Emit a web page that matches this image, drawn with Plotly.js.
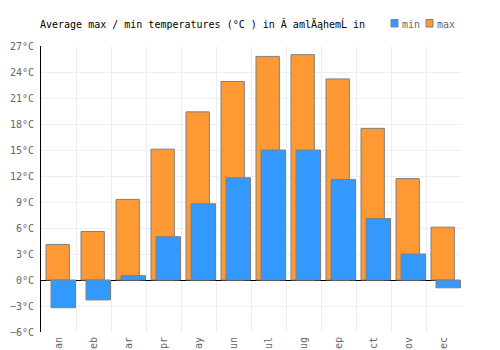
<!DOCTYPE html>
<html>
<head>
<meta charset="utf-8">
<script src="https://cdn.plot.ly/plotly-3.0.1.min.js"></script>
<style>html,body{margin:0;padding:0;background:#fff;}#chart{width:500px;height:350px;}</style>
</head>
<body>
<div id="chart"></div>
<script>
const months = ["an", "eb", "ar", "pr", "ay", "un", "ul", "ug", "ep", "ct", "ov", "ec"];
const maxTemps = [4.1, 5.6, 9.3, 15.1, 19.4, 22.9, 25.8, 26.0, 23.2, 17.5, 11.7, 6.1];
const minTemps = [-3.2, -2.3, 0.5, 5.0, 8.8, 11.8, 15.0, 15.0, 11.6, 7.1, 3.0, -0.9];
const yTicks = [-6, -3, 0, 3, 6, 9, 12, 15, 18, 21, 24, 27];
const yTickLabels = yTicks.map(v => (v < 0 ? "\u2212" + Math.abs(v) : String(v)) + "°C");
const seriesNames = ["min", "max"];
const titleText = "Average max / min temperatures (°C ) in Ă amlÄąhemĹ in";

const FONT = "DejaVu Sans Mono, monospace";
const ORANGE = "#ff9933";
const BLUE = "#3399ff";
const OUTLINE = "#808080";
const GREY_TEXT = "#666666";

const traces = [
  {
    type: "bar", name: "max", x: months, y: maxTemps,
    width: 0.667, offset: -0.357,
    marker: {color: ORANGE, line: {color: OUTLINE, width: 1}},
    showlegend: false, hoverinfo: "skip"
  },
  {
    type: "bar", name: "min", x: months, y: minTemps,
    width: 0.70, offset: -0.214,
    marker: {color: BLUE, line: {color: OUTLINE, width: 1}},
    showlegend: false, hoverinfo: "skip"
  }
];

// Manual legend (compact, like the reference)
const px = v => (v - 41) / 420;      // pixel x -> paper x
const py = v => (332 - v) / 286;     // pixel y -> paper y
const legendItems = [
  {name: seriesNames[0], color: BLUE, sx: 391, tx: 400},
  {name: seriesNames[1], color: ORANGE, sx: 426, tx: 435}
];
const shapes = legendItems.map(it => ({
  type: "rect", xref: "paper", yref: "paper",
  x0: px(it.sx), x1: px(it.sx + 7), y0: py(27), y1: py(19.5),
  fillcolor: it.color, line: {color: OUTLINE, width: 1}
}));
const annotations = legendItems.map(it => ({
  text: it.name, xref: "paper", yref: "paper",
  x: px(it.tx), xanchor: "left", y: py(24), yanchor: "middle",
  showarrow: false, font: {family: FONT, size: 10, color: GREY_TEXT}
}));

const layout = {
  width: 500, height: 350,
  margin: {l: 41, r: 39, t: 46, b: 18, autoexpand: false},
  paper_bgcolor: "#ffffff", plot_bgcolor: "#ffffff",
  barmode: "overlay",
  font: {family: FONT, size: 10, color: GREY_TEXT},
  title: {
    text: titleText, x: 0.08, xanchor: "left", xref: "container",
    y: 0.931, yanchor: "middle", yref: "container",
    font: {family: FONT, size: 10, color: "#000000"}
  },
  showlegend: false,
  shapes: shapes,
  annotations: annotations,
  xaxis: {
    type: "category", categoryorder: "array", categoryarray: months,
    tickangle: -90, tickson: "boundaries", ticks: "", ticklabelstandoff: 2,
    showgrid: true, gridcolor: "#eeeeee", gridwidth: 1,
    showline: false, zeroline: false, automargin: false,
    tickfont: {family: FONT, size: 10, color: GREY_TEXT},
    fixedrange: true
  },
  yaxis: {
    range: [-6, 27], tickmode: "array", tickvals: yTicks, ticktext: yTickLabels,
    showgrid: true, gridcolor: "#eeeeee", gridwidth: 1,
    showline: true, linecolor: "#000000", linewidth: 1,
    zeroline: true, zerolinecolor: "#000000", zerolinewidth: 1,
    ticks: "", ticklabelstandoff: 4, automargin: false,
    tickfont: {family: FONT, size: 10, color: GREY_TEXT},
    fixedrange: true
  }
};

Plotly.newPlot("chart", traces, layout, {displayModeBar: false, staticPlot: true});
</script>
</body>
</html>
